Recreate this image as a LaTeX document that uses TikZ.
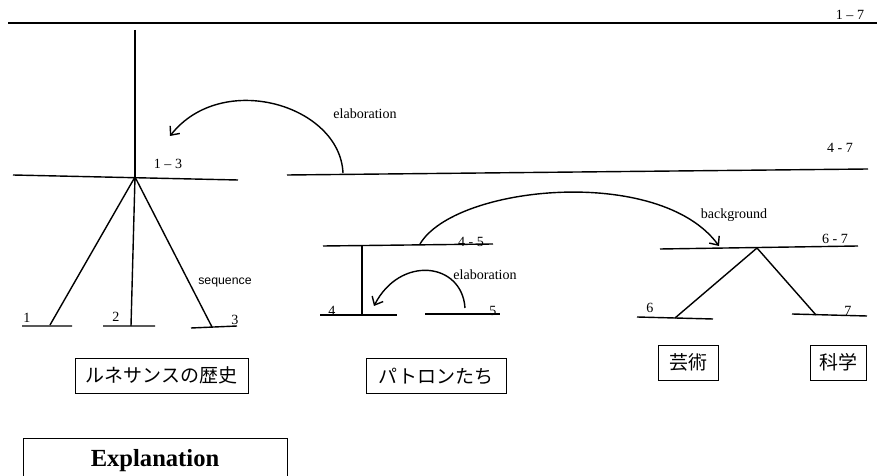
\documentclass[tikz,border=0pt]{standalone}
\usepackage{fontspec}
\setmainfont{Liberation Serif}
\newfontfamily\jpfont{Noto Sans CJK JP}
\newfontfamily\seqfont{Liberation Sans}
\usetikzlibrary{arrows.meta}

\begin{document}
\begin{tikzpicture}[x=0.02cm, y=-0.02cm, >={Straight Barb[length=4pt,width=7pt]},
  span/.style={line width=0.8pt},
  lbl/.style={inner sep=0pt, font=\fontsize{8}{9}\selectfont},
  jbox/.style={draw, line width=0.5pt, inner sep=0pt, minimum height=0.7cm, font=\jpfont\fontsize{10.8}{12}\selectfont}]
\useasboundingbox (0,0) rectangle (877,476);
\clip (0,0) rectangle (877,476);

% Span ends
\coordinate (s17w) at (8,23);    \coordinate (s17e) at (877,23);
\coordinate (top13) at (135,30);
\coordinate (s13w) at (13,175);  \coordinate (s13e) at (238,180);
\coordinate (root13) at (135,177);
\coordinate (s47w) at (287,175); \coordinate (s47e) at (868,169);
\coordinate (s1w) at (22,326);   \coordinate (s1e) at (72,326);   \coordinate (leg1) at (50,325);
\coordinate (s2w) at (103,326);  \coordinate (s2e) at (155,326);  \coordinate (leg2) at (131,326);
\coordinate (s3w) at (191,328);  \coordinate (s3e) at (237,326);  \coordinate (leg3) at (212,327);
\coordinate (s45w) at (323,246); \coordinate (s45e) at (493,244);
\coordinate (top4) at (362,246); \coordinate (leg4) at (362,315);
\coordinate (s4w) at (320,315);  \coordinate (s4e) at (397,315);
\coordinate (s5w) at (425,314);  \coordinate (s5e) at (500,314);
\coordinate (s67w) at (660,249); \coordinate (s67e) at (858,246);
\coordinate (root67) at (757,248);
\coordinate (s6w) at (637,317);  \coordinate (s6e) at (713,319);  \coordinate (leg6) at (675,318);
\coordinate (s7w) at (792,314);  \coordinate (s7e) at (867,316);  \coordinate (leg7) at (816,315);
\coordinate (elab1) at (343,173); \coordinate (elab1end) at (170,136);
\coordinate (elab2) at (465,308); \coordinate (elab2end) at (374,306);
\coordinate (bgnd) at (420,244);  \coordinate (bgndend) at (719,246);

% Spans
\draw[span] (s17w) -- (s17e);
\draw[span] (top13) -- (root13);
\draw[span] (s13w) -- (s13e);
\draw[span] (s47w) -- (s47e);
\draw[span] (root13) -- (leg1) (root13) -- (leg2) (root13) -- (leg3);
\draw[span] (s1w) -- (s1e) (s2w) -- (s2e) (s3w) -- (s3e);
\draw[span] (s45w) -- (s45e);
\draw[span] (top4) -- (leg4);
\draw[span] (s4w) -- (s4e) (s5w) -- (s5e);
\draw[span] (s67w) -- (s67e);
\draw[span] (root67) -- (leg6) (root67) -- (leg7);
\draw[span] (s6w) -- (s6e) (s7w) -- (s7e);

% Relations
\draw[span, ->] (elab1) .. controls (340,105) and (222,70) .. (elab1end);
\draw[span, ->] (elab2) .. controls (462,262) and (400,255) .. (elab2end);
\draw[span, ->] (bgnd) .. controls (455,185) and (660,165) .. (bgndend);

% Labels
\node[lbl] (l17) at (850,15) {1 -- 7};
\node[lbl] (l13) at (168,164) {1 -- 3};
\node[lbl] (l47) at (840,148) {4 - 7};
\node[lbl] (lelab1) at (365,114) {elaboration};
\node[lbl, font=\seqfont\fontsize{7}{8}\selectfont] (lseq) at (225,282) {sequence};
\node[lbl] (l1) at (27,318) {1};
\node[lbl] (l2) at (116,317) {2};
\node[lbl] (l3) at (235,320) {3};
\node[lbl] (l45) at (471,242) {4 - 5};
\node[lbl] (l4) at (332,311) {4};
\node[lbl] (l5) at (493,311) {5};
\node[lbl] (lelab2) at (485,275) {elaboration};
\node[lbl] (lbgnd) at (734,215) {background};
\node[lbl] (l67) at (835,239) {6 - 7};
\node[lbl] (l6) at (650,308) {6};
\node[lbl] (l7) at (848,311) {7};

% Segment boxes
\node[jbox, minimum width=3.46cm] (renaissance) at (161.5,375.5) {ルネサンスの歴史};
\node[jbox, minimum width=2.8cm] (patrons) at (436,376) {パトロンたち};
\node[jbox, minimum width=1.2cm] (art) at (688,362.5) {芸術};
\node[jbox, minimum width=1.12cm] (science) at (838,362.5) {科学};
\node[draw, line width=0.5pt, anchor=north, minimum width=5.28cm, minimum height=0.88cm,
  font=\bfseries\fontsize{14}{16}\selectfont] (explanation) at (155,438) {Explanation};
\end{tikzpicture}
\end{document}
